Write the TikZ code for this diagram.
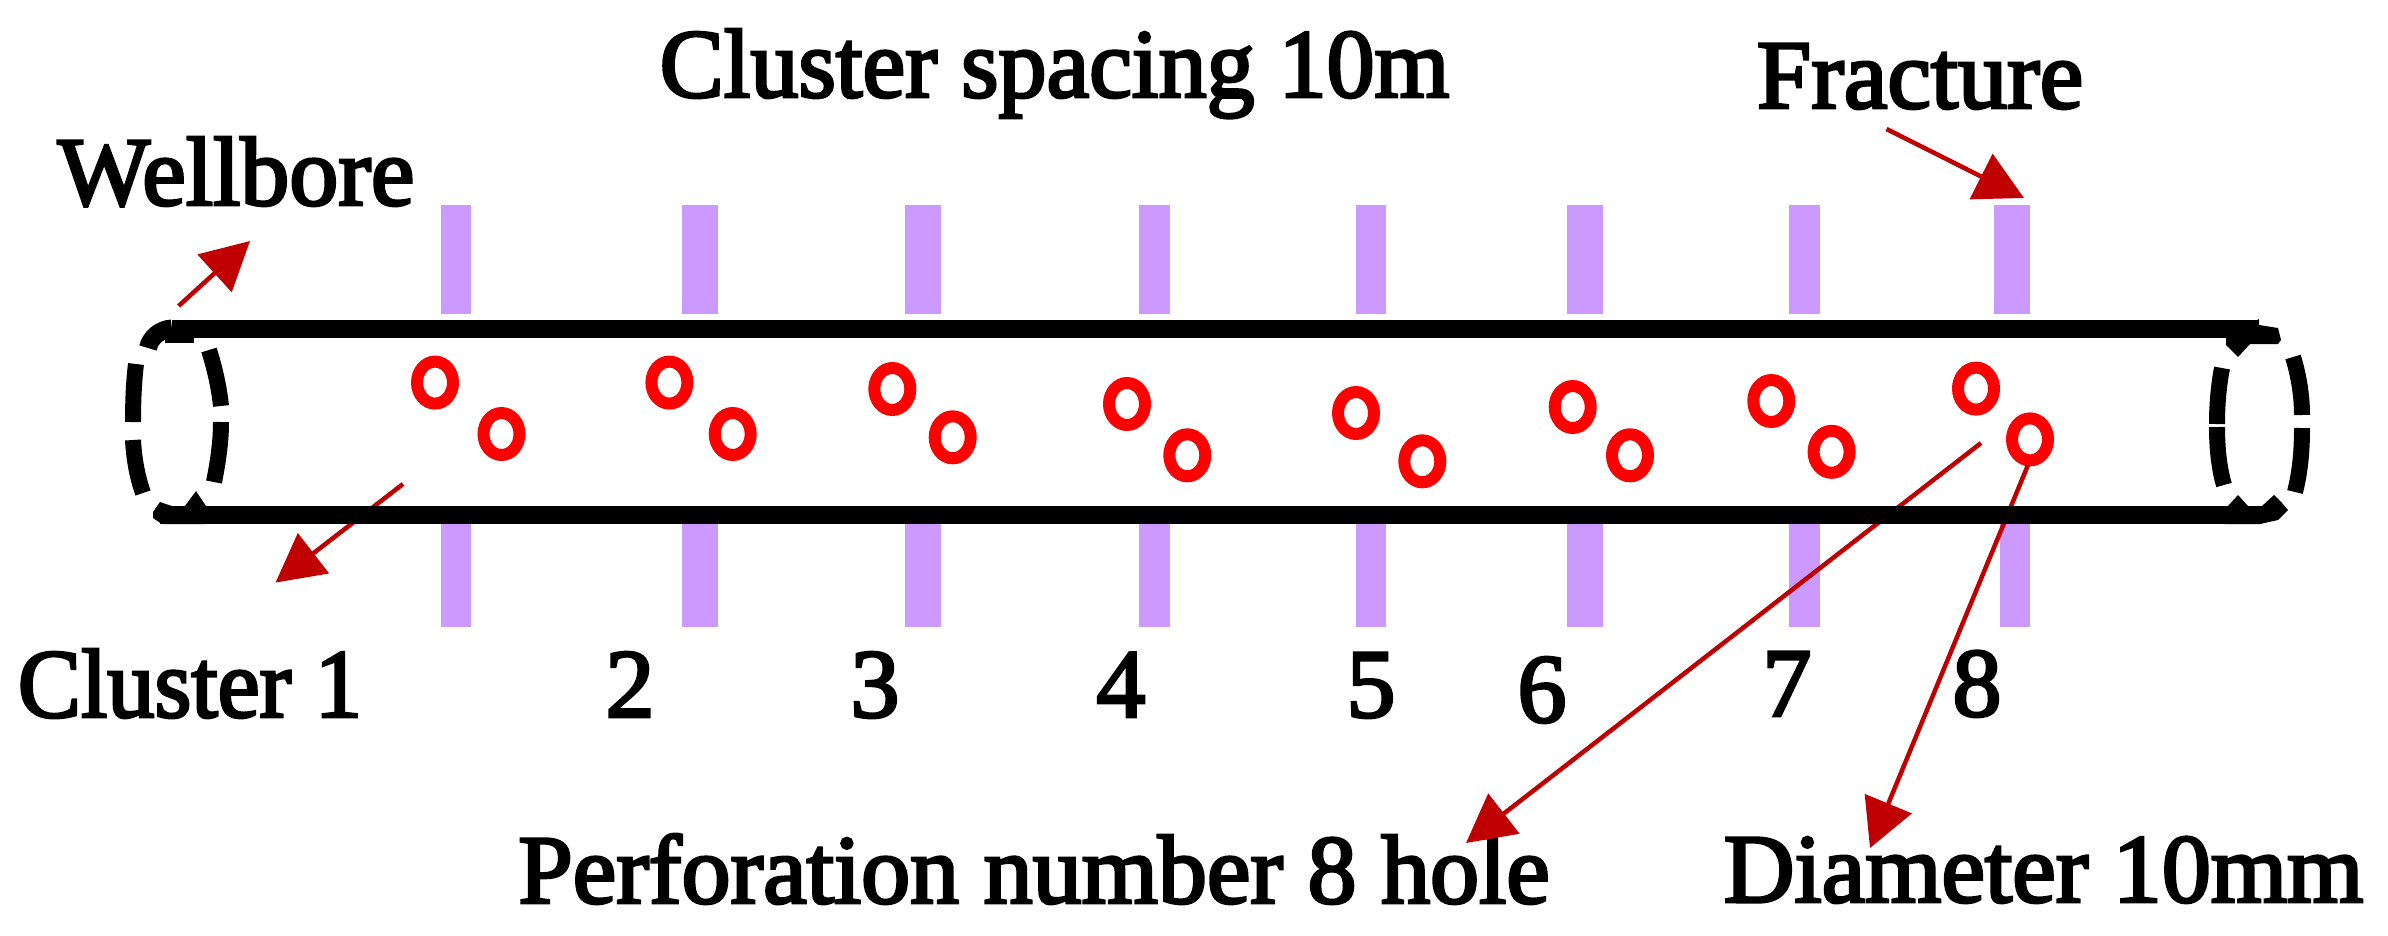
\documentclass[tikz,border=0pt]{standalone}
\usepackage{fontspec}
\setmainfont[FakeBold=3]{Liberation Serif}
\usetikzlibrary{arrows.meta,shapes.geometric}
\definecolor{fracpurple}{HTML}{CC99FF}
\definecolor{holered}{HTML}{FF0000}
\definecolor{arrowred}{HTML}{C00000}
\tikzset{
  x=1pt,y=-1pt,
  fracbar/.style={fill=fracpurple,draw=none,inner sep=0pt,outer sep=0pt},
  holering/.style={ellipse,draw=holered,line width=12pt,inner sep=0pt,outer sep=0pt,minimum width=36pt,minimum height=42pt},
  wellwall/.style={line width=18pt,black,line cap=butt},
  welldash/.style={line width=16pt,black,line cap=butt},
  callout/.style={draw=arrowred,line width=4.5pt,-{Triangle[length=48pt,width=50pt,fill=arrowred]}},
  label/.style={inner sep=0pt,outer sep=0pt,anchor=base,font=\fontsize{98}{98}\selectfont},
}
\begin{document}
\begin{tikzpicture}
\useasboundingbox (0,0) rectangle (2388,935);
% fractures above
\node[fracbar,minimum width=30pt,minimum height=108.7pt] (t1) at (456,259.3) {};
\node[fracbar,minimum width=36pt,minimum height=108.7pt] (t2) at (700,259.3) {};
\node[fracbar,minimum width=36pt,minimum height=108.7pt] (t3) at (922.7,259.3) {};
\node[fracbar,minimum width=30.7pt,minimum height=108.7pt] (t4) at (1154.3,259.3) {};
\node[fracbar,minimum width=30pt,minimum height=108.7pt] (t5) at (1371,259.3) {};
\node[fracbar,minimum width=36pt,minimum height=108.7pt] (t6) at (1585,259.3) {};
\node[fracbar,minimum width=30.5pt,minimum height=108.7pt] (t7) at (1804.7,259.3) {};
\node[fracbar,minimum width=36pt,minimum height=108.7pt] (t8) at (2012,259.3) {};
% fractures below
\node[fracbar,minimum width=30pt,minimum height=112pt] (b1) at (456,570.7) {};
\node[fracbar,minimum width=36pt,minimum height=112pt] (b2) at (700,570.7) {};
\node[fracbar,minimum width=36pt,minimum height=112pt] (b3) at (922.7,570.7) {};
\node[fracbar,minimum width=30.7pt,minimum height=112pt] (b4) at (1154.3,570.7) {};
\node[fracbar,minimum width=30pt,minimum height=112pt] (b5) at (1371,570.7) {};
\node[fracbar,minimum width=36pt,minimum height=112pt] (b6) at (1585,570.7) {};
\node[fracbar,minimum width=30.5pt,minimum height=112pt] (b7) at (1804.7,570.7) {};
\node[fracbar,minimum width=30pt,minimum height=112pt] (b8) at (2015,570.7) {};
% perforation holes
\node[holering] (h1a) at (435,382.6) {};
\node[holering] (h1b) at (501.5,434) {};
\node[holering] (h2a) at (669.4,382.6) {};
\node[holering] (h2b) at (732.7,434) {};
\node[holering] (h3a) at (892.3,389) {};
\node[holering] (h3b) at (952.7,437.3) {};
\node[holering] (h4a) at (1127,404) {};
\node[holering] (h4b) at (1187.3,455.3) {};
\node[holering] (h5a) at (1356,413) {};
\node[holering] (h5b) at (1422.3,461.3) {};
\node[holering] (h6a) at (1572.7,407) {};
\node[holering] (h6b) at (1630,455.3) {};
\node[holering] (h7a) at (1771.3,401) {};
\node[holering] (h7b) at (1831.6,451.8) {};
\node[holering] (h8a) at (1976,388.6) {};
\node[holering] (h8b) at (2030,439.4) {};
% labels
\node[label,xscale=0.98] (lspacing) at (1054.5,97) {Cluster spacing 10m};
\node[label] (lwell) at (236,205) {Wellbore};
\node[label] (lfrac) at (1920,108) {Fracture};
\node[label,xscale=0.965] (lc1) at (190,717) {Cluster 1};
\node[label] (lc2) at (630,717) {2};
\node[label] (lc3) at (875,717) {3};
\node[label] (lc4) at (1121,717) {4};
\node[label] (lc5) at (1371,717) {5};
\node[label] (lc6) at (1542,722) {6};
\node[label] (lc7) at (1787,716) {7};
\node[label] (lc8) at (1977,716) {8};
\node[label] (lperf) at (1034,903) {Perforation number 8 hole};
\node[label] (ldiam) at (2043.5,902) {Diameter 10mm};
% callout ends
\coordinate (wa0) at (178.6,306); \coordinate (wa1) at (250,241);
\coordinate (wb0) at (403,484); \coordinate (wb1) at (275.5,582.6);
\coordinate (fr0) at (1886.5,129); \coordinate (fr1) at (2024,198);
\coordinate (pf0) at (1981,443); \coordinate (pf1) at (1466,843);
\coordinate (dm0) at (2028,465); \coordinate (dm1) at (1870,848);
% callouts
\draw[callout] (wa0) -- (wa1);
\draw[callout] (wb0) -- (wb1);
\draw[callout] (fr0) -- (fr1);
\draw[callout] (pf0) -- (pf1);
\draw[callout] (dm0) -- (dm1);
% wellbore walls
\coordinate (topL) at (172,328.5); \coordinate (topR) at (2259,328.5);
\coordinate (botL) at (160,515) ; \coordinate (botR) at (2262,515);
\draw[wellwall] (topL) -- (topR);
\draw[wellwall] (botL) -- (botR);
% left dashed ring
\draw[line width=18pt] (148,348) .. controls (150,338) and (160,329) .. (topL);
\fill (165,337) rectangle (194,343);
\draw[welldash] (136,364) .. controls (134,380) and (133,400) .. (133,422);
\draw[welldash] (133,440) .. controls (134,458) and (137,476) .. (143,493);
\draw[welldash] (209,350) .. controls (214,366) and (219,386) .. (221,406);
\draw[welldash] (221,422) .. controls (221,442) and (218,462) .. (214,482);
\fill (153,512) -- (160,502) -- (172,506) -- (185,506) -- (196,491) -- (206,506) -- (206,524) -- (162,524) -- (153,518) -- cycle;
% right dashed ring
\draw[welldash] (2222,368) .. controls (2219,384) and (2217,402) .. (2217,424);
\draw[welldash] (2217,427) .. controls (2217,448) and (2219,468) .. (2224,485);
\draw[line width=16pt] (2293,357) .. controls (2298,373) and (2302,394) .. (2302,415);
\draw[line width=16pt] (2302,428) .. controls (2302,452) and (2300,472) .. (2295,492);
\fill (2226,337) -- (2259,319) -- (2259,325) -- (2278,328) -- (2281,340) -- (2278,344) -- (2250,344) -- (2238,357) -- (2226,345) -- cycle;
\fill (2225,506) -- (2228,506) -- (2238,495) -- (2248,506) -- (2262,506) -- (2274,495) -- (2282,503) -- (2288,510) -- (2278,520) -- (2260,524) -- (2225,524) -- cycle;
\end{tikzpicture}
\end{document}
